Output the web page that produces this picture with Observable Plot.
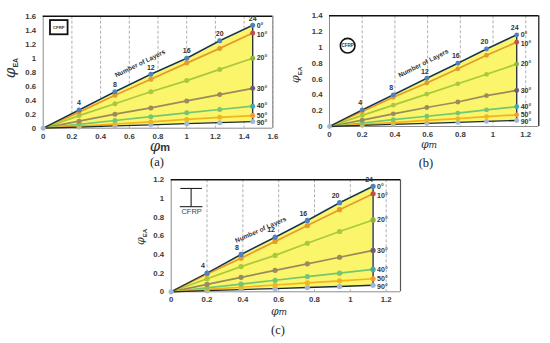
<!DOCTYPE html>
<html><head><meta charset="utf-8">
<script src="https://cdn.jsdelivr.net/npm/d3@7"></script>
<script src="https://cdn.jsdelivr.net/npm/@observablehq/plot@0.6"></script>
<style>
body{margin:0;background:#fff;}
#wrap{position:relative;width:550px;height:343px;overflow:hidden;background:#fff;}
.panel{position:absolute;}
.cap{position:absolute;font-family:"Liberation Serif","Times New Roman",serif;font-size:12.5px;color:#222;transform:translateX(-50%);line-height:14px;}
</style></head><body><div id="wrap"></div>
<script>
// ---------- data ----------
const layers = [0, 4, 8, 12, 16, 20, 24];
const angleLabels = ["0°", "10°", "20°", "30°", "40°", "50°", "90°"];

// panel (a) – CFRP box section
const aX   = [0, 0.25, 0.50, 0.75, 1.00, 1.23, 1.46];
const a0   = [0, 0.26, 0.52, 0.77, 1.00, 1.25, 1.47];
const a10  = [0, 0.23, 0.47, 0.70, 0.93, 1.14, 1.36];
const a20  = [0, 0.18, 0.35, 0.52, 0.68, 0.84, 1.00];
const a30  = [0, 0.10, 0.20, 0.29, 0.39, 0.48, 0.57];
const a40  = [0, 0.055, 0.11, 0.165, 0.22, 0.267, 0.314];
const a50  = [0, 0.03, 0.06, 0.09, 0.125, 0.155, 0.181];
const a90  = [0, 0.016, 0.032, 0.048, 0.064, 0.079, 0.095];
const aXTicks = [0, 0.2, 0.4, 0.6, 0.8, 1, 1.2, 1.4, 1.6];
const aYTicks = [0, 0.2, 0.4, 0.6, 0.8, 1, 1.2, 1.4, 1.6];

// panel (b) – CFRP circular section
const bX   = [0, 0.20, 0.39, 0.595, 0.785, 0.96, 1.145];
const b0   = [0, 0.21, 0.40, 0.61, 0.80, 0.98, 1.16];
const b10  = [0, 0.19, 0.37, 0.55, 0.73, 0.90, 1.067];
const b20  = [0, 0.14, 0.27, 0.41, 0.54, 0.66, 0.79];
const b30  = [0, 0.08, 0.16, 0.24, 0.31, 0.39, 0.456];
const b40  = [0, 0.044, 0.086, 0.13, 0.17, 0.21, 0.25];
const b50  = [0, 0.026, 0.05, 0.077, 0.10, 0.125, 0.148];
const b90  = [0, 0.013, 0.026, 0.039, 0.052, 0.064, 0.076];
const bXTicks = [0, 0.2, 0.4, 0.6, 0.8, 1, 1.2];
const bYTicks = [0, 0.2, 0.4, 0.6, 0.8, 1, 1.2, 1.4];

// panel (c) – CFRP I-section
const cX   = [0, 0.20, 0.39, 0.58, 0.76, 0.94, 1.127];
const c0   = [0, 0.20, 0.40, 0.585, 0.765, 0.955, 1.13];
const c10  = [0, 0.19, 0.36, 0.54, 0.71, 0.88, 1.05];
const c20  = [0, 0.14, 0.27, 0.39, 0.52, 0.646, 0.77];
const c30  = [0, 0.08, 0.155, 0.23, 0.30, 0.37, 0.443];
const c40  = [0, 0.043, 0.083, 0.124, 0.163, 0.20, 0.24];
const c50  = [0, 0.025, 0.049, 0.073, 0.095, 0.118, 0.14];
const c90  = [0, 0.012, 0.024, 0.035, 0.046, 0.057, 0.07];
const cXTicks = [0, 0.2, 0.4, 0.6, 0.8, 1, 1.2];
const cYTicks = [0, 0.2, 0.4, 0.6, 0.8, 1, 1.2];

// ---------- style ----------
const lineColors = ["#4F81BD", "#E59A2C", "#AAC83E", "#9A8A5C", "#74C770", "#F4B41E", "#1d2b2b"];
const dotColors  = ["#4F81BD", "#E59A2C", "#AAC83E", "#9A8A5C", "#74C770", "#F4B41E", "#9DB8DA"];
const endColors  = ["#4F81BD", "#C0504D", "#8DB43A", "#6F5C74", "#3FA9B5", "#F29B38", "#9DB8DA"];
const fillColor = "#FAF56A";
const outline = "#1d2b2b";
const fmt = d => String(+d.toFixed(1));

const panels = [
  {X: aX, Y: [a0, a10, a20, a30, a40, a50, a90], xTicks: aXTicks, yTicks: aYTicks,
   left: 0, top: 0, width: 290, height: 170, mL: 42.7, mR: 17.7, mT: 15.7, mB: 42.3,
   xDomain: [0, 1.6], yDomain: [0, 1.6], rightColor: "#8a8a8a", r: 2.5, layerDx: 0,
   note: {x: 0.675, y: 0.925, rotate: -26}, cap: "(a)", capX: 157, capY: 155,
   yLab: {x: 15, y: 68, big: 15, small: 7}, xLab: {x: 160, y: 151, big: 15, small: 11},
   icon: "box", iconPos: {x: 0.112, y: 1.436}},
  {X: bX, Y: [b0, b10, b20, b30, b40, b50, b90], xTicks: bXTicks, yTicks: bYTicks,
   left: 280, top: 0, width: 270, height: 170, mL: 49, mR: 11.7, mT: 15.3, mB: 44,
   xDomain: [0, 1.28], yDomain: [0, 1.4], rightColor: "#111", r: 2.4, layerDx: -2,
   note: {x: 0.575, y: 0.80, rotate: -27}, cap: "(b)", capX: 426, capY: 156,
   yLab: {x: 19, y: 75, big: 11, small: 6}, xLab: {x: 149, y: 148, big: 11, small: 9},
   icon: "circle", iconPos: {x: 0.114, y: 1.016}},
  {X: cX, Y: [c0, c10, c20, c30, c40, c50, c90], xTicks: cXTicks, yTicks: cYTicks,
   left: 130, top: 170, width: 290, height: 173, mL: 40.7, mR: 20, mT: 9.3, mB: 51.7,
   xDomain: [0, 1.28], yDomain: [0, 1.2], rightColor: "#555", r: 2.6, layerDx: -4,
   note: {x: 0.50, y: 0.665, rotate: -24}, cap: "(c)", capX: 278, capY: 323,
   yLab: {x: 14, y: 67, big: 11, small: 6}, xLab: {x: 149, y: 145, big: 11, small: 9},
   icon: "ibeam", iconPos: {x: 0.114, y: 1.0}}
];

const wrap = document.getElementById("wrap");

panels.forEach(cfg => {
  const {X, Y} = cfg;
  const n = X.length - 1;
  const idx = d3.range(X.length);
  const top = Y[0], bot = Y[6];
  const marks = [
    Plot.ruleX(cfg.xTicks.filter(d => d > 0), {stroke: "#9a9a9a", strokeDasharray: "3,2", strokeWidth: 0.8}),
    Plot.areaY(idx, {x: i => X[i], y1: i => bot[i], y2: i => top[i], fill: fillColor}),
    Plot.ruleY([0], {stroke: "#8c8c8c", strokeWidth: 1}),
    Plot.ruleX([0], {stroke: "#8c8c8c", strokeWidth: 1}),
    Plot.ruleY([cfg.yDomain[1]], {stroke: "#111", strokeWidth: 1.6}),
    Plot.ruleX([cfg.xDomain[1]], {stroke: cfg.rightColor, strokeWidth: 1.2}),
    Plot.axisX({ticks: cfg.xTicks, tickFormat: fmt, tickSize: 0, tickPadding: 5, label: null}),
    Plot.axisY({ticks: cfg.yTicks, tickFormat: fmt, tickSize: 0, tickPadding: 7, label: null}),
    ...Y.map((vals, k) => Plot.line(idx, {x: i => X[i], y: i => vals[i], stroke: lineColors[k], strokeWidth: k === 6 ? 1.3 : 1.7})),
    Plot.line(idx, {x: i => X[i], y: i => top[i], stroke: outline, strokeWidth: 1.1}),
    Plot.ruleX([X[n]], {y1: bot[n], y2: top[n], stroke: outline, strokeWidth: 1.3}),
    ...Y.slice().reverse().map((vals, rk) => {
      const k = 6 - rk;
      return Plot.dot(idx.slice(1, n), {x: i => X[i], y: i => vals[i], r: cfg.r, fill: dotColors[k]});
    }),
    ...Y.map((vals, k) => Plot.dot([n], {x: i => X[i], y: i => vals[i], r: cfg.r, fill: endColors[k]})),
    Plot.dot([0], {x: i => X[i], y: i => bot[i], r: cfg.r, fill: "#9DB8DA"}),
    Plot.text(idx.slice(1), {x: i => X[i], y: i => top[i], text: i => String(layers[i]), dy: -7, dx: cfg.layerDx,
      fontSize: 7, fontWeight: "bold", fill: "#333"}),
    ...Y.map((vals, k) => Plot.text([n], {x: i => X[i], y: i => vals[i], text: () => angleLabels[k],
      dx: 4, dy: [0, 1.5, 0, 0.5, 0, 0, 1.5][k], textAnchor: "start", fontSize: 7, fontWeight: "bold", fill: "#333"})),
    Plot.text([cfg.note], {x: "x", y: "y", rotate: cfg.note.rotate, text: () => "Number of Layers",
      fontSize: 6.5, fontWeight: "bold", fill: "#333"})
  ];
  const svg = Plot.plot({
    width: cfg.width, height: cfg.height,
    marginLeft: cfg.mL, marginRight: cfg.mR, marginTop: cfg.mT, marginBottom: cfg.mB,
    x: {domain: cfg.xDomain}, y: {domain: cfg.yDomain},
    style: {fontFamily: "'Liberation Sans', Arial, sans-serif", fontSize: "7.8px", fontWeight: "bold",
      color: "#3a3a3a", background: "none", overflow: "visible"},
    marks
  });
  const div = document.createElement("div");
  div.className = "panel";
  div.style.left = cfg.left + "px"; div.style.top = cfg.top + "px";
  div.style.width = cfg.width + "px"; div.style.height = cfg.height + "px";
  div.appendChild(svg);
  wrap.appendChild(div);

  const sx = svg.scale("x"), sy = svg.scale("y");
  const g = d3.select(svg);
  // y title
  const yt = g.append("text")
    .attr("transform", `translate(${cfg.yLab.x},${cfg.yLab.y}) rotate(-90)`)
    .attr("text-anchor", "middle").attr("fill", "#333");
  yt.append("tspan").text("φ")
    .attr("font-family", "'DejaVu Serif', serif").attr("font-style", "italic")
    .attr("font-size", cfg.yLab.big).attr("font-weight", "normal");
  yt.append("tspan").text("EA").attr("dy", cfg.yLab.small * 0.45)
    .attr("font-family", "'Liberation Sans', sans-serif")
    .attr("font-size", cfg.yLab.small).attr("font-weight", "bold");
  // x title
  const xt = g.append("text")
    .attr("x", cfg.xLab.x).attr("y", cfg.xLab.y)
    .attr("text-anchor", "middle").attr("fill", "#333");
  xt.append("tspan").text("φ")
    .attr("font-family", "'DejaVu Serif', serif").attr("font-style", "italic")
    .attr("font-size", cfg.xLab.big).attr("font-weight", "normal");
  xt.append("tspan").text("m")
    .attr("font-family", cfg.icon === "box" ? "'Liberation Sans', sans-serif" : "'DejaVu Serif', serif")
    .attr("font-style", cfg.icon === "box" ? "normal" : "italic")
    .attr("font-size", cfg.xLab.small).attr("font-weight", cfg.icon === "box" ? "bold" : "normal");

  // section icon
  const ix = sx.apply(cfg.iconPos.x), iy = sy.apply(cfg.iconPos.y);
  if (cfg.icon === "box") {
    g.append("rect").attr("x", ix - 8.8).attr("y", iy - 7.1).attr("width", 17.6).attr("height", 14.2)
      .attr("fill", "#fff").attr("stroke", "#111").attr("stroke-width", 1.8);
    g.append("text").attr("x", ix).attr("y", iy + 1.4).attr("text-anchor", "middle")
      .attr("font-size", 4.2).attr("font-weight", "bold").attr("fill", "#333").text("CFRP");
  } else if (cfg.icon === "circle") {
    g.append("circle").attr("cx", ix).attr("cy", iy).attr("r", 7.3)
      .attr("fill", "#fff").attr("stroke", "#111").attr("stroke-width", 1.6);
    g.append("text").attr("x", ix).attr("y", iy + 1.6).attr("text-anchor", "middle")
      .attr("font-size", 4.5).attr("font-weight", "bold").attr("fill", "#333").text("CFRP");
  } else {
    const t = iy - 9.5, b = iy + 8.7;
    const ib = g.append("g").attr("stroke", "#222").attr("stroke-width", 1.1);
    ib.append("line").attr("x1", ix - 10.8).attr("x2", ix + 10.8).attr("y1", t).attr("y2", t);
    ib.append("line").attr("x1", ix).attr("x2", ix).attr("y1", t).attr("y2", b);
    ib.append("line").attr("x1", ix - 11.3).attr("x2", ix + 11.3).attr("y1", b).attr("y2", b);
    g.append("text").attr("x", ix + 0.5).attr("y", b + 7.3).attr("text-anchor", "middle")
      .attr("font-size", 7.5).attr("font-weight", "normal").attr("fill", "#444").text("CFRP");
  }

  const cap = document.createElement("div");
  cap.className = "cap";
  cap.style.left = cfg.capX + "px"; cap.style.top = cfg.capY + "px";
  cap.textContent = cfg.cap;
  wrap.appendChild(cap);
});
</script>
</body></html>
